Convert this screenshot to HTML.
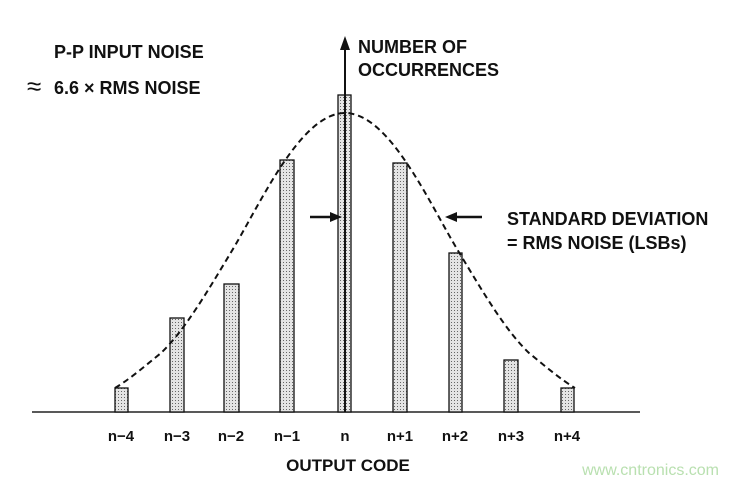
<!DOCTYPE html>
<html><head><style>
html,body{margin:0;padding:0;background:#fff;}
svg{display:block}
text{font-family:"Liberation Sans",Arial,sans-serif;font-weight:bold;fill:#111;}
</style></head><body>
<svg width="740" height="485" viewBox="0 0 740 485" xmlns="http://www.w3.org/2000/svg">
<defs>
<pattern id="dots" width="3" height="3" patternUnits="userSpaceOnUse">
<rect width="3" height="3" fill="#e4e4e4"/>
<rect x="1" y="1" width="1" height="1" fill="#666"/>
</pattern>
</defs>
<line x1="32" y1="412" x2="640" y2="412" stroke="#222" stroke-width="1.5"/>
<g fill="url(#dots)" stroke="#111" stroke-width="1.3">
<rect x="115" y="388" width="13" height="24"/>
<rect x="170" y="318" width="14" height="94"/>
<rect x="224" y="284" width="15" height="128"/>
<rect x="280" y="160" width="14" height="252"/>
<rect x="338" y="95" width="13" height="317"/>
<rect x="393" y="163" width="14" height="249"/>
<rect x="449" y="253" width="13" height="159"/>
<rect x="504" y="360" width="14" height="52"/>
<rect x="561" y="388" width="13" height="24"/>
</g>
<path d="M115,388 C130,379 145,366 161,353 C185,330 207,292 230,254 C260,205 300,113 345,113 C390,113 430,205 460,254 C483,292 505,330 529,353 C545,366 560,379 575,388" fill="none" stroke="#111" stroke-width="2" stroke-dasharray="6,4"/>
<line x1="345" y1="412" x2="345" y2="48" stroke="#111" stroke-width="2"/>
<polygon points="345,36 340,50 350,50" fill="#111"/>
<line x1="310" y1="217" x2="332" y2="217" stroke="#111" stroke-width="2.5"/>
<polygon points="342,217 330,212 330,222" fill="#111"/>
<line x1="456" y1="217" x2="482" y2="217" stroke="#111" stroke-width="2.5"/>
<polygon points="445,217 457,212 457,222" fill="#111"/>
<text x="54" y="58" font-size="18">P-P INPUT NOISE</text>
<text x="27" y="95" font-size="26" style="font-weight:normal">≈</text>
<text x="54" y="94" font-size="18">6.6 × RMS NOISE</text>
<text x="358" y="53" font-size="18">NUMBER OF</text>
<text x="358" y="76" font-size="18">OCCURRENCES</text>
<text x="507" y="225" font-size="18">STANDARD DEVIATION</text>
<text x="507" y="249" font-size="18">= RMS NOISE (LSBs)</text>
<g font-size="15" text-anchor="middle">
<text x="121" y="441">n−4</text>
<text x="177" y="441">n−3</text>
<text x="231" y="441">n−2</text>
<text x="287" y="441">n−1</text>
<text x="345" y="441">n</text>
<text x="400" y="441">n+1</text>
<text x="455" y="441">n+2</text>
<text x="511" y="441">n+3</text>
<text x="567" y="441">n+4</text>
</g>
<text x="348" y="471" font-size="17" text-anchor="middle">OUTPUT CODE</text>
<text x="719" y="475" font-size="16" text-anchor="end" style="font-weight:normal;fill:#b9e0b0">www.cntronics.com</text>
</svg>
</body></html>
